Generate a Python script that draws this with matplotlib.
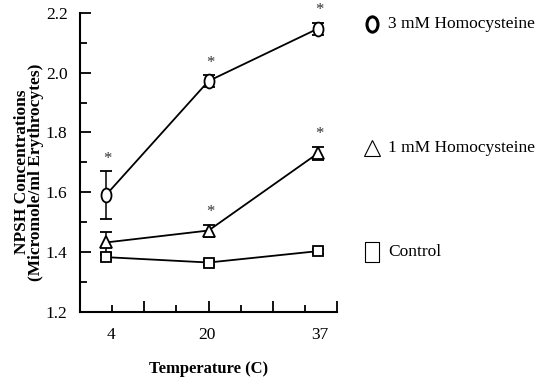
"""NPSH concentration in erythrocytes vs incubation temperature."""
import numpy as np
import matplotlib
matplotlib.use('Agg')
import matplotlib.pyplot as plt
from matplotlib.path import Path
from matplotlib.transforms import Affine2D

plt.rcParams['font.family'] = ['Liberation Serif', 'DejaVu Serif']

temps = [4, 20, 37]
temp_labels = ['4', '20', '37']

hcy3_mean = [1.59, 1.972, 2.147]
hcy3_err = [0.08, 0.02, 0.02]
hcy1_mean = [1.432, 1.472, 1.73]
hcy1_err = [0.035, 0.02, 0.022]
ctrl_mean = [1.383, 1.365, 1.403]
ctrl_err = [0.008, 0.008, 0.008]

# significance markers (True -> asterisk above the point)
hcy3_sig = [True, True, True]
hcy1_sig = [False, True, True]

series_labels = ['3 mM Homocysteine', '1 mM Homocysteine', 'Control']

# slightly tall oval / rectangle shapes
oval = Path.unit_circle().transformed(Affine2D().scale(0.72, 1.0))
tall_box = Path.unit_rectangle().transformed(Affine2D().translate(-0.5, -0.5).scale(0.72, 1.0))

fig = plt.figure(figsize=(5.41, 3.78), dpi=100)
ax = fig.add_axes([0.148, 0.175, 0.475, 0.791])

style = dict(color='black', linewidth=1.3, markerfacecolor='white',
             markeredgecolor='black', markeredgewidth=1.3,
             ecolor='black', elinewidth=1.1, capsize=4, capthick=1.3)

ax.errorbar(temps, ctrl_mean, yerr=ctrl_err, marker='s', markersize=7.5, **style)
ax.errorbar(temps, hcy1_mean, yerr=hcy1_err, marker='^', markersize=8, **style)
ax.errorbar(temps, hcy3_mean, yerr=hcy3_err, marker=oval, markersize=10, **style)

for means, errs, sig in [(hcy3_mean, hcy3_err, hcy3_sig), (hcy1_mean, hcy1_err, hcy1_sig)]:
    for t, m, e, s in zip(temps, means, errs, sig):
        if s:
            ax.annotate('*', (t, m + e), xytext=(1, 9), textcoords='offset points',
                        ha='center', va='center', fontsize=12, color='#333333')

ax.set_xlim(0, 40)
ax.set_ylim(1.2, 2.2)
ax.set_xticks([0, 10, 20, 30, 40])
ax.set_xticks([5, 15, 25, 35], minor=True)
ax.set_xticklabels([])
ax.set_yticks([1.2, 1.4, 1.6, 1.8, 2.0, 2.2])
ax.set_yticks(np.arange(1.3, 2.2, 0.2), minor=True)
ax.set_yticklabels(['1.2', '1.4', '1.6', '1.8', '2.0', '2.2'], fontsize=12.5)
ax.tick_params(axis='both', which='major', direction='in', length=8, width=1.3)
ax.tick_params(axis='both', which='minor', direction='in', length=5, width=1.3)
ax.tick_params(axis='y', which='both', pad=9)

# temperature labels sit under the measured points
for t, lab, dx in zip(temps, temp_labels, [0.8, -0.2, 0.3]):
    ax.text(t + dx, -0.05, lab, transform=ax.get_xaxis_transform(),
            ha='center', va='top', fontsize=12.5)

for side in ['top', 'right']:
    ax.spines[side].set_visible(False)
for side in ['left', 'bottom']:
    ax.spines[side].set_linewidth(1.5)

ax.set_xlabel('Temperature (C)', fontsize=12, fontweight='bold', labelpad=32)
ax.set_ylabel('NPSH Concentrations\n(Micromole/ml Erythrocytes)', fontsize=12.5,
              fontweight='bold', linespacing=0.85)
ax.yaxis.set_label_coords(-0.14, 0.468)

# right-hand key, one entry beside each curve end
key_y = [hcy3_mean[2] + 0.015, hcy1_mean[2] + 0.017, ctrl_mean[2] - 0.002]
key_markers = [oval, '^', tall_box]
key_sizes = [11, 12, 14]
key_widths = [2.2, 0.8, 0.8]
for y, mk, ms, mw, lab in zip(key_y, key_markers, key_sizes, key_widths, series_labels):
    ax.plot([45.5], [y], marker=mk, markersize=ms, markerfacecolor='white',
            markeredgecolor='black', markeredgewidth=mw, clip_on=False)
    ax.text(47.9, y, lab, ha='left', va='center', fontsize=12.5)

fig.savefig('out.png', dpi=100)
